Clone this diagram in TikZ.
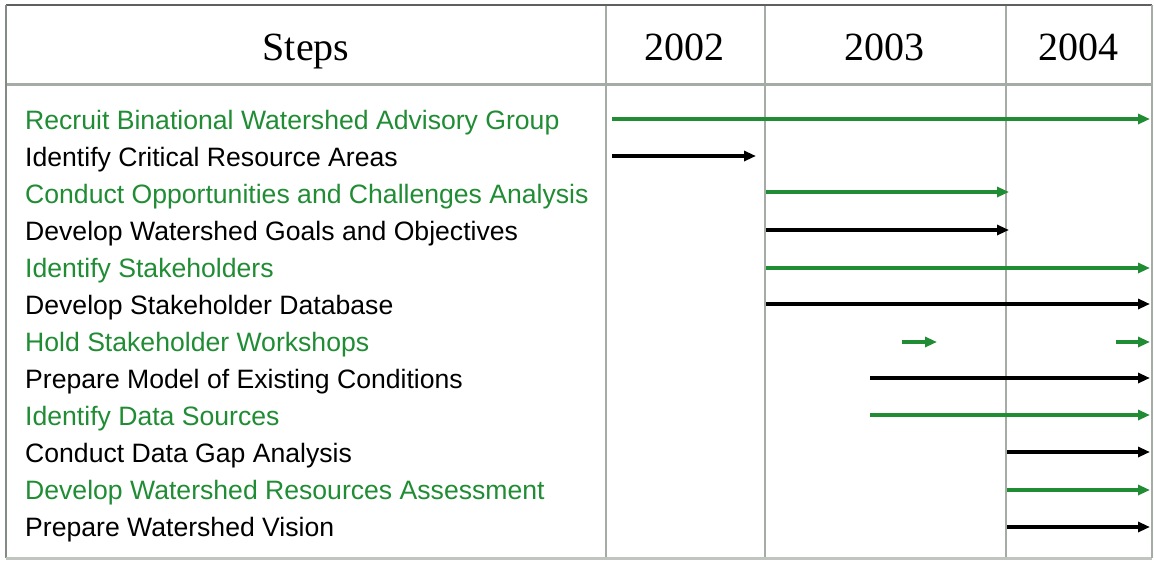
\documentclass[tikz,border=0pt]{standalone}
\usepackage{fontspec}
\setmainfont{Liberation Sans}
\newfontfamily\headfont{Liberation Serif}
\usetikzlibrary{arrows.meta}

\definecolor{stepgreen}{RGB}{32,140,52}
\definecolor{gridgray}{RGB}{165,172,165}
\definecolor{framegray}{RGB}{95,95,95}

\begin{document}
\begin{tikzpicture}[x=1pt,y=-1pt,
    head/.style={anchor=base,font=\headfont\fontsize{40}{44}\selectfont},
    steptext/.style={anchor=west,inner sep=0pt,font=\fontsize{26.6}{30}\selectfont},
    gstep/.style={steptext,text=stepgreen},
    bstep/.style={steptext,text=black},
    bar/.style={line width=3.2pt,-{Triangle[length=12pt,width=10pt]}},
    gbar/.style={bar,stepgreen},
    bbar/.style={bar,black}]
\useasboundingbox (0,0) rectangle (1154,562);

% grid
\draw[gridgray,line width=3pt] (6,84) -- (1151,84);
\draw[gridgray,line width=1.5pt] (606,6) -- (606,557);
\draw[gridgray,line width=1.5pt] (765,6) -- (765,557);
\draw[gridgray,line width=1.5pt] (1006,6) -- (1006,557);
\draw[framegray,line width=2.5pt] (6,5) -- (1152,5);
\draw[gridgray!80!black,line width=1.5pt] (6,5) -- (6,558);
\draw[gridgray!70,line width=3pt] (6,558) -- (1152,558);
\draw[gridgray,line width=1.5pt] (1152,5) -- (1152,558);

% header
\node[head] (hsteps) at (306,60) {Steps};
\node[head] (h2002) at (684,60) {2002};
\node[head] (h2003) at (884,60) {2003};
\node[head] (h2004) at (1078,60) {2004};

% steps
\node[gstep] (s1) at (25,123) {Recruit Binational Watershed Advisory Group};
\node[bstep] (s2) at (25,160) {Identify Critical Resource Areas};
\node[gstep] (s3) at (25,197) {Conduct Opportunities and Challenges Analysis};
\node[bstep] (s4) at (25,234) {Develop Watershed Goals and Objectives};
\node[gstep] (s5) at (25,271) {Identify Stakeholders};
\node[bstep] (s6) at (25,308) {Develop Stakeholder Database};
\node[gstep] (s7) at (25,345) {Hold Stakeholder Workshops};
\node[bstep] (s8) at (25,382) {Prepare Model of Existing Conditions};
\node[gstep] (s9) at (25,419) {Identify Data Sources};
\node[bstep] (s10) at (25,456) {Conduct Data Gap Analysis};
\node[gstep] (s11) at (25,493) {Develop Watershed Resources Assessment};
\node[bstep] (s12) at (25,530) {Prepare Watershed Vision};

% bar ends
\coordinate (a1) at (612,119);  \coordinate (b1) at (1150,119);
\coordinate (a2) at (612,156);  \coordinate (b2) at (756,156);
\coordinate (a3) at (766,192);  \coordinate (b3) at (1009,192);
\coordinate (a4) at (766,230);  \coordinate (b4) at (1009,230);
\coordinate (a5) at (766,268);  \coordinate (b5) at (1150,268);
\coordinate (a6) at (766,304);  \coordinate (b6) at (1150,304);
\coordinate (a7) at (902,342);  \coordinate (b7) at (937,342);
\coordinate (c7) at (1116,342); \coordinate (d7) at (1150,342);
\coordinate (a8) at (870,378);  \coordinate (b8) at (1150,378);
\coordinate (a9) at (870,415);  \coordinate (b9) at (1150,415);
\coordinate (a10) at (1007,452); \coordinate (b10) at (1150,452);
\coordinate (a11) at (1007,490); \coordinate (b11) at (1150,490);
\coordinate (a12) at (1007,527); \coordinate (b12) at (1150,527);

\draw[gbar] (a1) -- (b1);
\draw[bbar] (a2) -- (b2);
\draw[gbar] (a3) -- (b3);
\draw[bbar] (a4) -- (b4);
\draw[gbar] (a5) -- (b5);
\draw[bbar] (a6) -- (b6);
\draw[gbar] (a7) -- (b7);
\draw[gbar] (c7) -- (d7);
\draw[bbar] (a8) -- (b8);
\draw[gbar] (a9) -- (b9);
\draw[bbar] (a10) -- (b10);
\draw[gbar] (a11) -- (b11);
\draw[bbar] (a12) -- (b12);
\end{tikzpicture}
\end{document}
